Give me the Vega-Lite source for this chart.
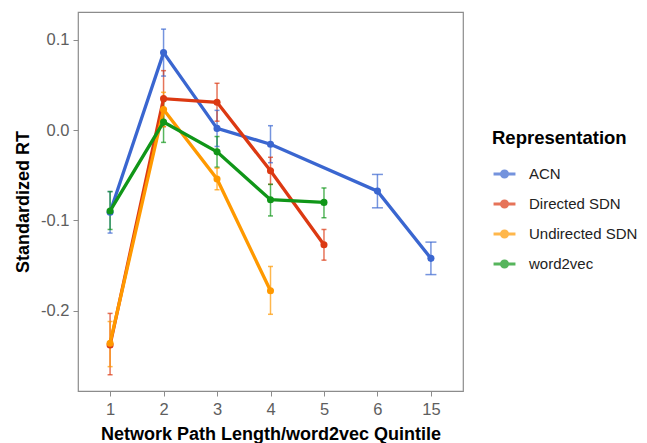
{
  "$schema": "https://vega.github.io/schema/vega-lite/v6.json",
  "width": 385,
  "height": 379,
  "autosize": {"type": "none"},
  "padding": {"left": 78, "top": 12, "right": 184, "bottom": 52},
  "background": "white",
  "config": {
    "font": "Liberation Sans",
    "view": {"stroke": "#8c8c8c", "strokeWidth": 1.2},
    "axis": {"grid": false, "domain": false, "tickColor": "#8c8c8c", "tickSize": 5, "labelColor": "#5e5e5e", "labelFontSize": 16.5, "titleFontSize": 18, "titleFontWeight": "bold", "titleColor": "#000000", "labelFont": "Liberation Sans", "titleFont": "Liberation Sans"}
  },
  "data": {"values": [
    {"rep": "ACN", "x": "1", "y": -0.091, "lo": -0.114, "hi": -0.068},
    {"rep": "ACN", "x": "2", "y": 0.086, "lo": 0.060, "hi": 0.112},
    {"rep": "ACN", "x": "3", "y": 0.002, "lo": -0.018, "hi": 0.022},
    {"rep": "ACN", "x": "4", "y": -0.0155, "lo": -0.036, "hi": 0.005},
    {"rep": "ACN", "x": "6", "y": -0.0675, "lo": -0.086, "hi": -0.049},
    {"rep": "ACN", "x": "15", "y": -0.142, "lo": -0.160, "hi": -0.124},
    {"rep": "Directed SDN", "x": "1", "y": -0.238, "lo": -0.271, "hi": -0.203},
    {"rep": "Directed SDN", "x": "2", "y": 0.035, "lo": 0.004, "hi": 0.066},
    {"rep": "Directed SDN", "x": "3", "y": 0.031, "lo": 0.010, "hi": 0.052},
    {"rep": "Directed SDN", "x": "4", "y": -0.045, "lo": -0.060, "hi": -0.030},
    {"rep": "Directed SDN", "x": "5", "y": -0.127, "lo": -0.144, "hi": -0.110},
    {"rep": "Undirected SDN", "x": "1", "y": -0.236, "lo": -0.262, "hi": -0.212},
    {"rep": "Undirected SDN", "x": "2", "y": 0.023, "lo": 0.004, "hi": 0.042},
    {"rep": "Undirected SDN", "x": "3", "y": -0.054, "lo": -0.066, "hi": -0.042},
    {"rep": "Undirected SDN", "x": "4", "y": -0.178, "lo": -0.204, "hi": -0.151},
    {"rep": "word2vec", "x": "1", "y": -0.0895, "lo": -0.110, "hi": -0.068},
    {"rep": "word2vec", "x": "2", "y": 0.009, "lo": -0.0135, "hi": 0.032},
    {"rep": "word2vec", "x": "3", "y": -0.024, "lo": -0.041, "hi": -0.007},
    {"rep": "word2vec", "x": "4", "y": -0.077, "lo": -0.095, "hi": -0.060},
    {"rep": "word2vec", "x": "5", "y": -0.080, "lo": -0.097, "hi": -0.064}
  ]},
  "encoding": {
    "x": {"field": "x", "type": "ordinal", "sort": ["1", "2", "3", "4", "5", "6", "15"],
      "scale": {"type": "point", "padding": 0.6, "domain": ["1", "2", "3", "4", "5", "6", "15"]},
      "axis": {"title": "Network Path Length/word2vec Quintile", "labelAngle": 0, "labelPadding": 5, "titlePadding": 8}},
    "color": {"field": "rep", "type": "nominal",
      "scale": {"domain": ["ACN", "Directed SDN", "Undirected SDN", "word2vec"], "range": ["#3A66D0", "#DC3912", "#FF9900", "#109618"]},
      "legend": {"title": "Representation", "orient": "none", "legendX": 414, "legendY": 117,
        "titleFontSize": 18.5, "titleFontWeight": "bold", "titleColor": "#000000", "titlePadding": 14,
        "labelFontSize": 15, "labelColor": "#222222", "labelOffset": 12,
        "symbolType": "M-1,0L1,0M-0.28,0A0.28,0.28 0 1,1 0.28,0A0.28,0.28 0 1,1 -0.28,0Z",
        "symbolSize": 480, "symbolStrokeWidth": 3, "rowPadding": 8}}
  },
  "layer": [
    {"mark": {"type": "rule", "strokeWidth": 1.5, "opacity": 0.7},
     "encoding": {"y": {"field": "lo", "type": "quantitative"}, "y2": {"field": "hi"}}},
    {"mark": {"type": "tick", "thickness": 1.5, "opacity": 0.7},
     "encoding": {"y": {"field": "lo", "type": "quantitative"},
       "size": {"condition": {"test": "datum.x == '6' || datum.x == '15'", "value": 11}, "value": 5}}},
    {"mark": {"type": "tick", "thickness": 1.5, "opacity": 0.7},
     "encoding": {"y": {"field": "hi", "type": "quantitative"},
       "size": {"condition": {"test": "datum.x == '6' || datum.x == '15'", "value": 11}, "value": 5}}},
    {"mark": {"type": "line", "strokeWidth": 3.3},
     "encoding": {"y": {"field": "y", "type": "quantitative",
        "scale": {"domain": [-0.289, 0.131], "nice": false, "zero": false},
        "axis": {"title": "Standardized RT", "values": [-0.2, -0.1, 0.0, 0.1],
          "labelExpr": "replace(format(datum.value, '.1f'), '\u2212', '-')", "labelPadding": 4, "titlePadding": 8}}}},
    {"mark": {"type": "point", "filled": true, "size": 50, "opacity": 1},
     "encoding": {"y": {"field": "y", "type": "quantitative"}}}
  ]
}
